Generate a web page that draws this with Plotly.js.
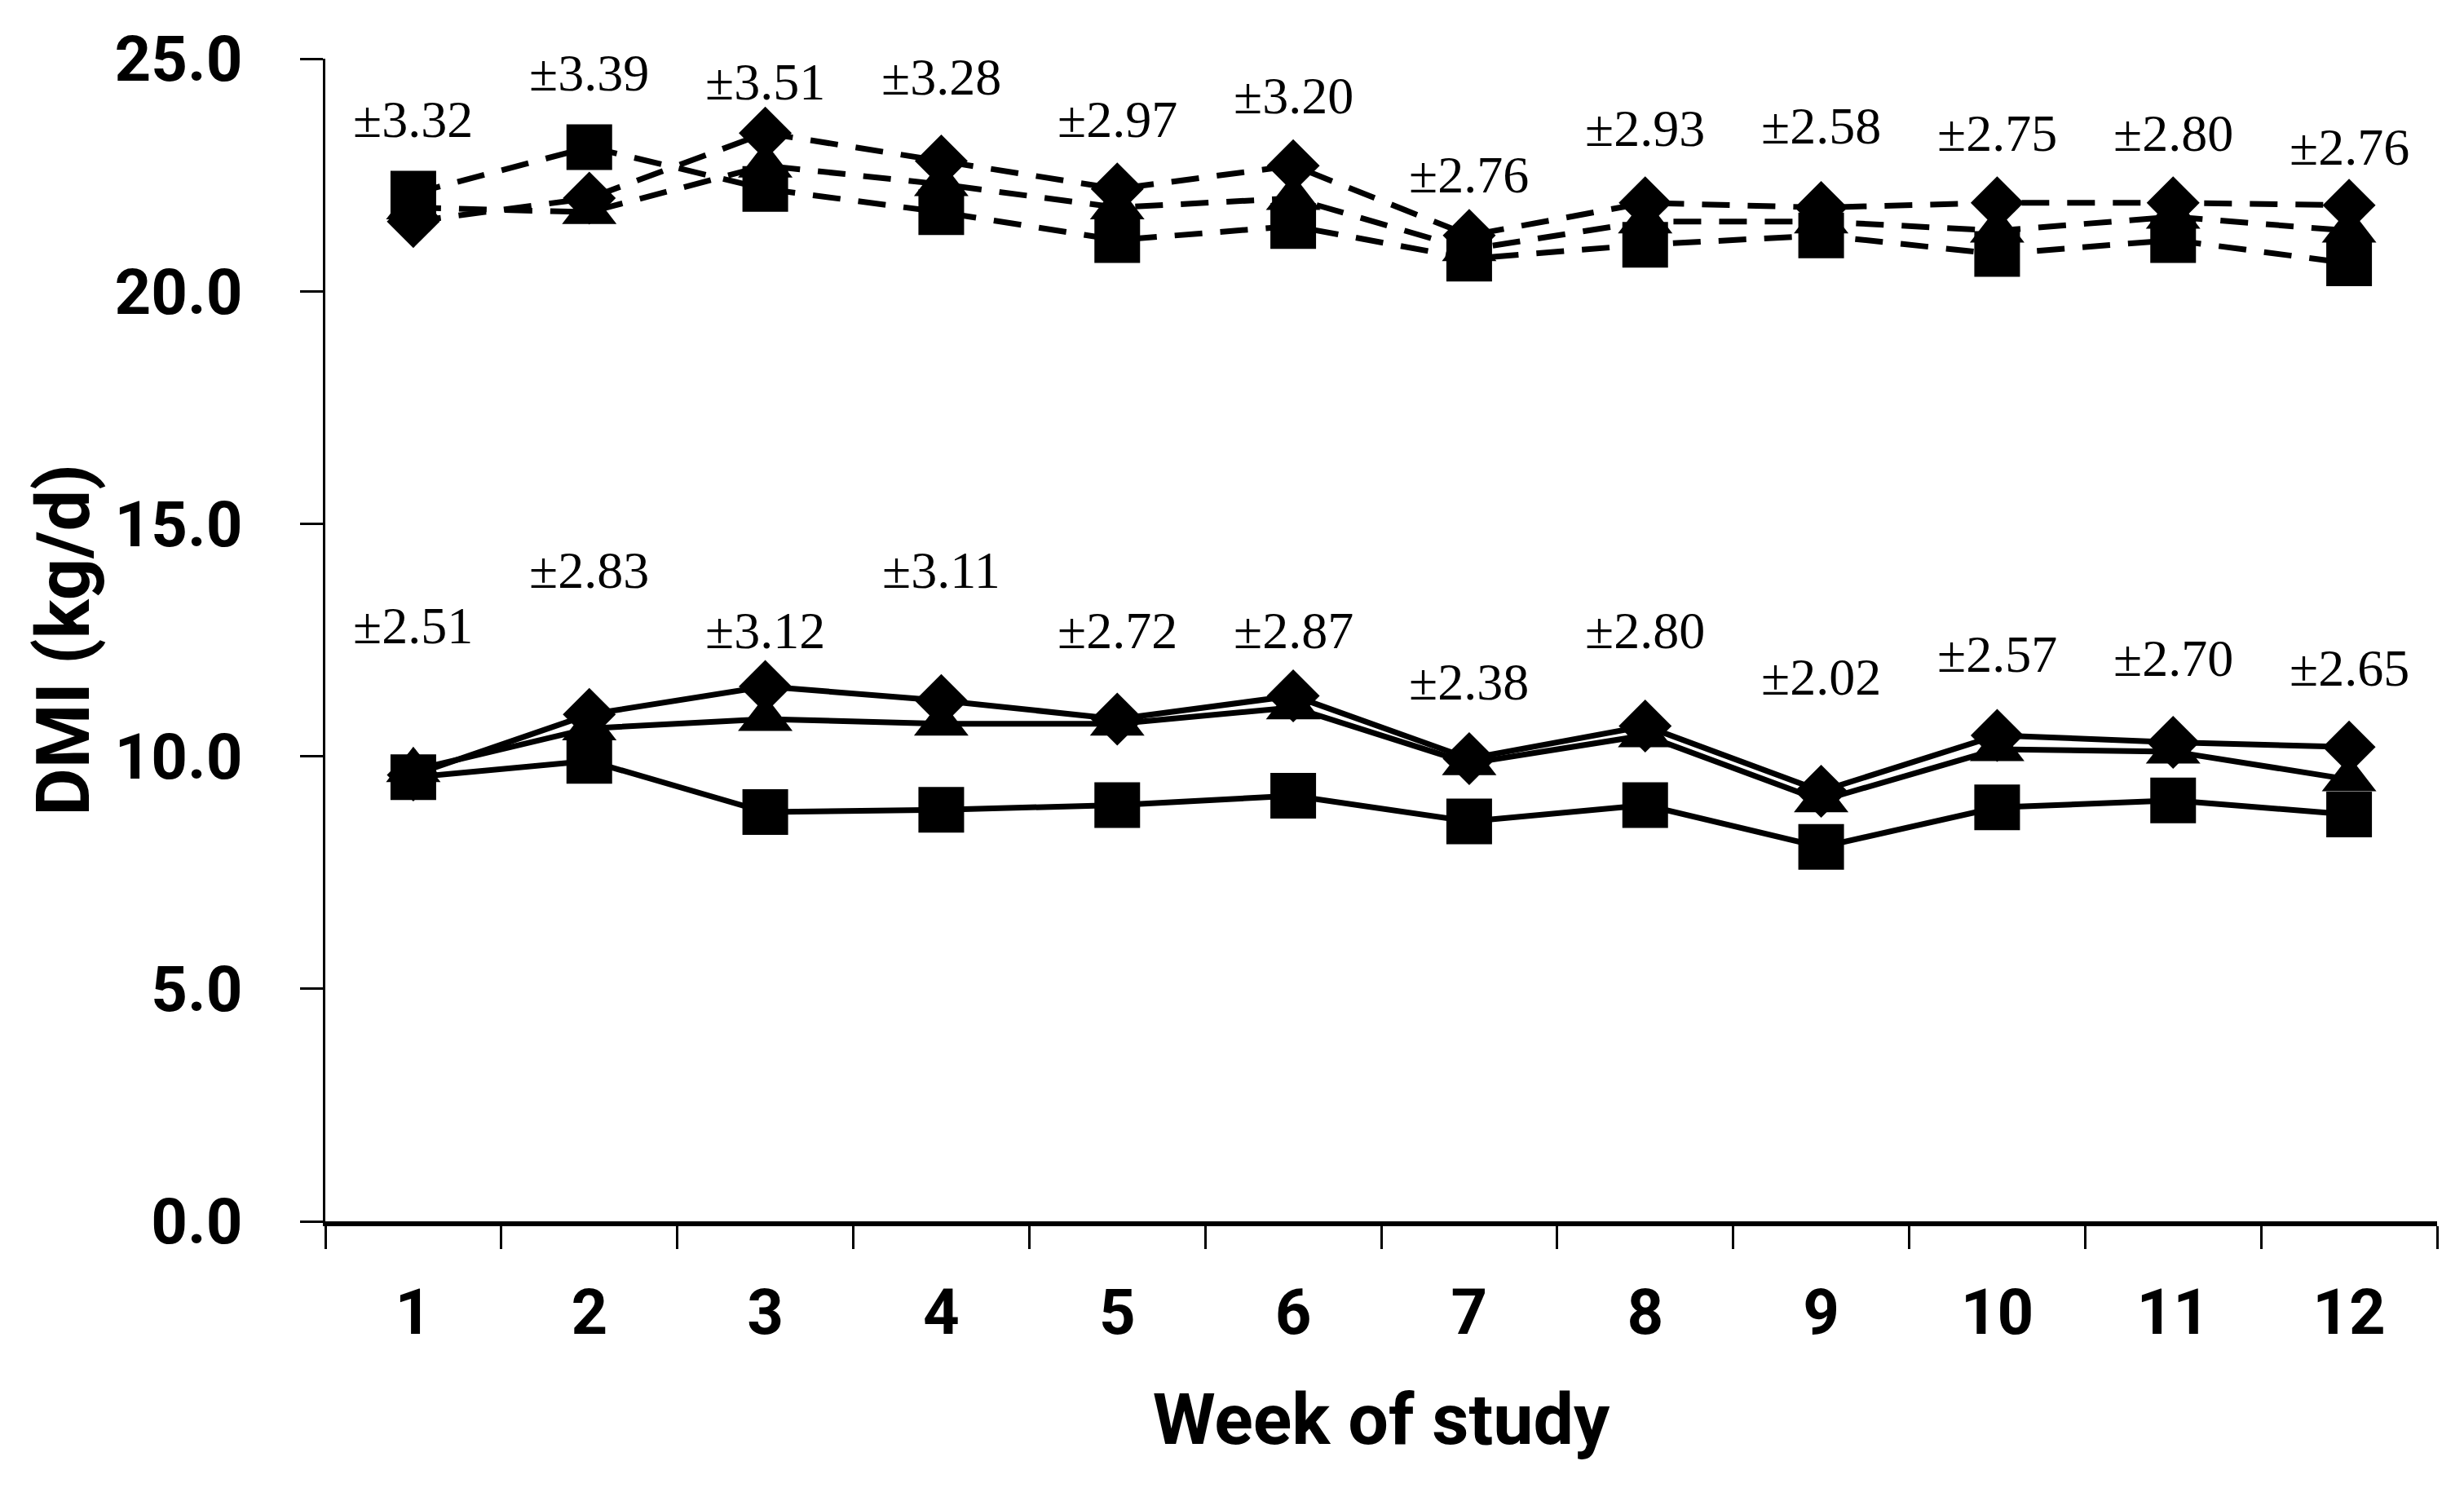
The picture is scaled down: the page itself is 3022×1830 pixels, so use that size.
<!DOCTYPE html>
<html>
<head>
<meta charset="utf-8">
<script src="https://cdn.plot.ly/plotly-3.0.1.min.js"></script>
<style>html,body{margin:0;padding:0;background:#fff;}#chart{width:3022px;height:1830px;}</style>
</head>
<body>
<div id="chart"></div>
<script>
// ---- data ----
const weeks = ["1","2","3","4","5","6","7","8","9","10","11","12"];

// upper group (dashed lines)
const upperDiamond  = [21.5, 22.0, 23.4, 22.8, 22.2, 22.7, 21.2, 21.9, 21.8, 21.9, 21.9, 21.85];
const upperSquare   = [22.1, 23.1, 22.2, 21.7, 21.1, 21.4, 20.7, 21.0, 21.2, 20.8, 21.1, 20.6];
const upperTriangle = [21.8, 21.7, 22.7, 22.3, 21.8, 22.0, 20.9, 21.5, 21.5, 21.3, 21.6, 21.3];

// lower group (solid lines)
const lowerDiamond  = [9.6, 10.9, 11.5, 11.2, 10.8, 11.3, 9.95, 10.65, 9.25, 10.45, 10.3, 10.2];
const lowerTriangle = [9.7, 10.6, 10.8, 10.7, 10.7, 11.05, 9.85, 10.45, 9.05, 10.15, 10.1, 9.5];
const lowerSquare   = [9.55, 9.9, 8.8, 8.85, 8.95, 9.15, 8.6, 8.95, 8.05, 8.9, 9.05, 8.75];

// SE labels and the heights at which they are written
const seUpper  = ["±3.32","±3.39","±3.51","±3.28","±2.97","±3.20","±2.76","±2.93","±2.58","±2.75","±2.80","±2.76"];
const seUpperY = [23.7, 24.7, 24.5, 24.6, 23.7, 24.2, 22.5, 23.5, 23.55, 23.4, 23.4, 23.1];
const seLower  = ["±2.51","±2.83","±3.12","±3.11","±2.72","±2.87","±2.38","±2.80","±2.02","±2.57","±2.70","±2.65"];
const seLowerY = [12.8, 14.0, 12.7, 14.0, 12.7, 12.7, 11.6, 12.7, 11.7, 12.2, 12.1, 11.9];

const yTicks = [0, 5, 10, 15, 20, 25];

// ---- styles ----
const dashStyle = "34px,22px";
function series(y, symbol, size, dashed) {
  return {
    x: weeks, y: y, type: "scatter", mode: "lines+markers",
    line: {color: "#000", width: 7, dash: dashed ? dashStyle : "solid"},
    marker: {symbol: symbol, size: size, color: "#000", line: {width: 0}},
    hoverinfo: "skip"
  };
}

const traces = [
  series(upperTriangle, "triangle-up", 58, true),
  series(upperSquare, "square", 56, true),
  series(upperDiamond, "diamond", 50, true),
  series(lowerTriangle, "triangle-up", 58, false),
  series(lowerSquare, "square", 56, false),
  series(lowerDiamond, "diamond", 50, false)
];

const labelFont = {family: "Liberation Serif, serif", size: 64, color: "#000"};
const annotations = [];
weeks.forEach((w, i) => {
  // category index i is the position of week w on the category axis
  annotations.push({x: i, y: seUpperY[i], xref: "x", yref: "y", text: seUpper[i],
    showarrow: false, font: labelFont, xanchor: "center", yanchor: "middle"});
  annotations.push({x: i, y: seLowerY[i], xref: "x", yref: "y", text: seLower[i],
    showarrow: false, font: labelFont, xanchor: "center", yanchor: "middle"});
});

const tickFont = {family: "Roboto, sans-serif", size: 78, color: "#000", weight: "bold"};

const layout = {
  width: 3022, height: 1830,
  margin: {l: 399, r: 33, t: 72, b: 332},
  paper_bgcolor: "#fff", plot_bgcolor: "#fff",
  showlegend: false,
  font: {family: "Roboto, sans-serif", color: "#000"},
  xaxis: {
    type: "category",
    categoryorder: "array", categoryarray: weeks,
    range: [-0.5, 11.5],
    showgrid: false, zeroline: false,
    showline: true, linecolor: "#000", linewidth: 6,
    ticks: "outside", tickson: "boundaries", ticklen: 28, tickwidth: 3, tickcolor: "#000",
    tickfont: tickFont, ticklabelstandoff: 38,
    title: {text: "Week of study", font: {family: "Roboto, sans-serif", size: 88, color: "#000", weight: "bold"}, standoff: 58}
  },
  yaxis: {
    range: [0, 25],
    tickvals: yTicks, tickformat: ".1f",
    showgrid: false, zeroline: false,
    showline: true, linecolor: "#000", linewidth: 3,
    ticks: "outside", ticklen: 28, tickwidth: 3, tickcolor: "#000",
    tickfont: tickFont, ticklabelstandoff: 55,
    title: {text: "DMI (kg/d)", font: {family: "Roboto, sans-serif", size: 90, color: "#000", weight: "bold"}, standoff: 2}
  },
  annotations: annotations
};

Plotly.newPlot("chart", traces, layout, {staticPlot: true, displayModeBar: false});
</script>
</body>
</html>
